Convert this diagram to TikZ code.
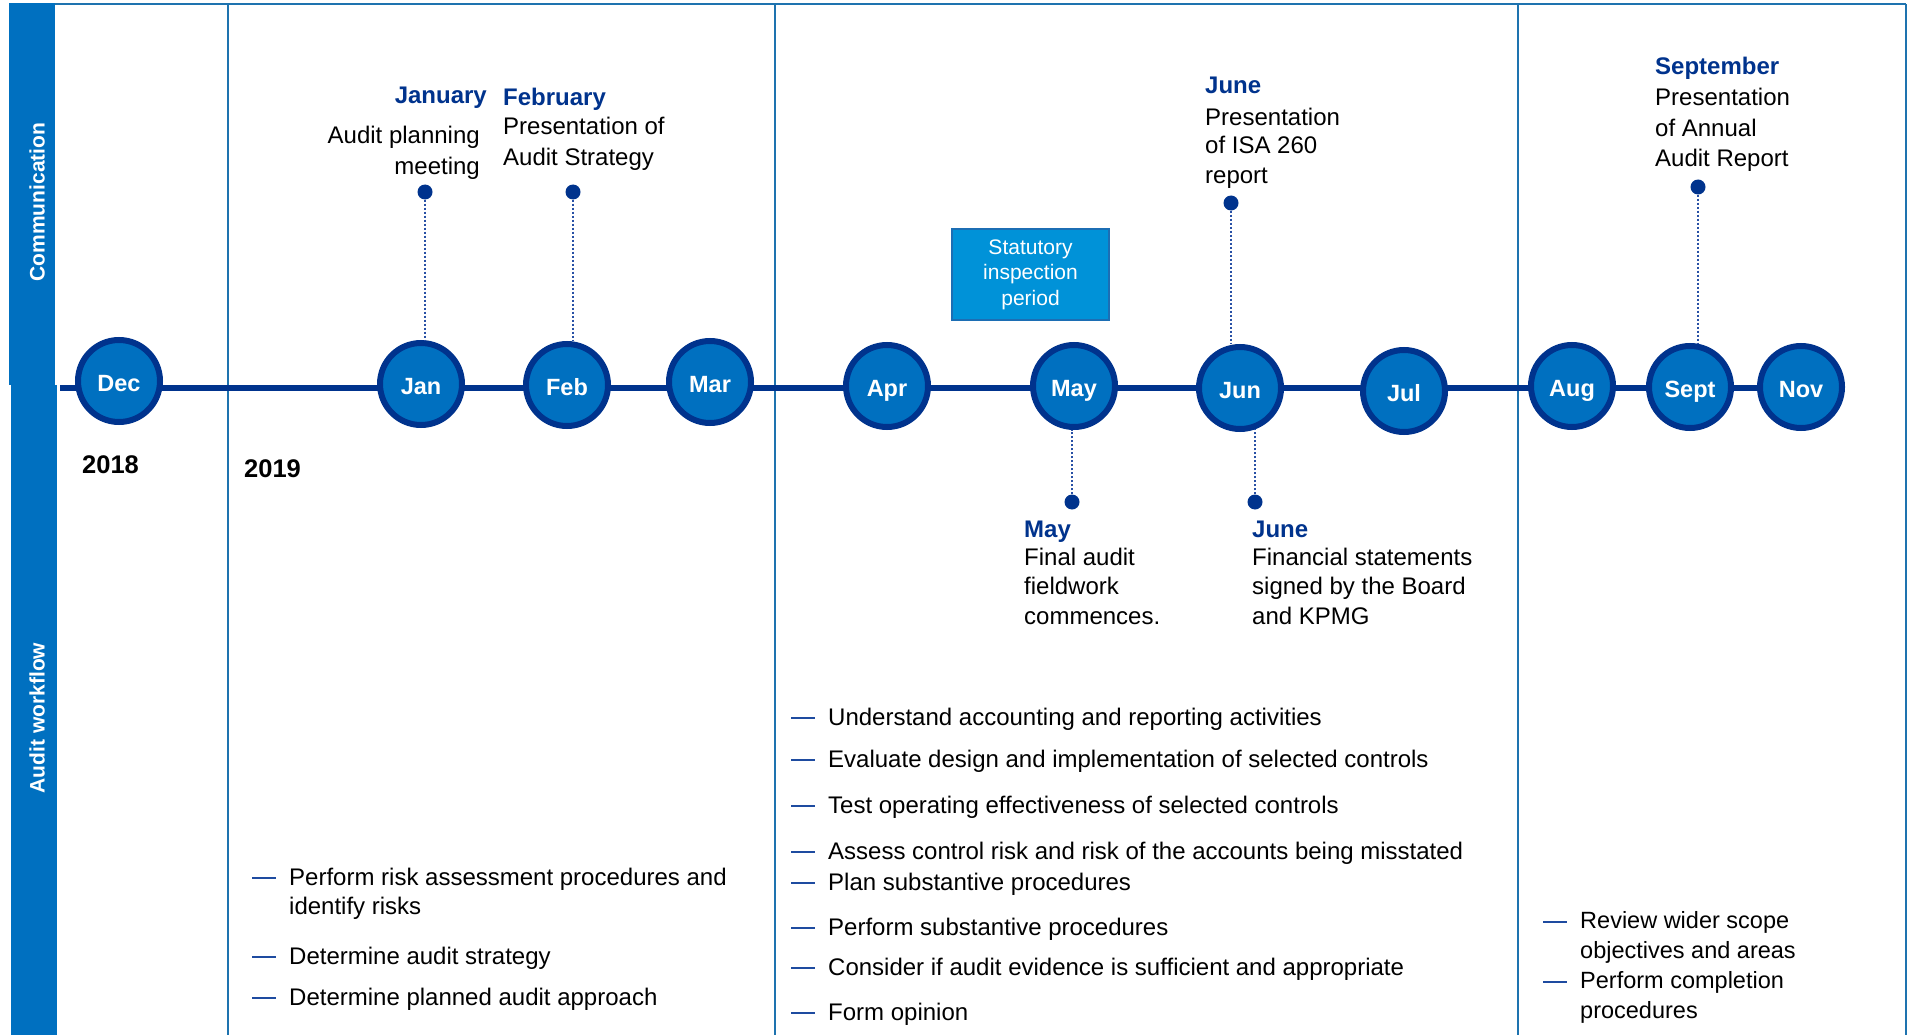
\documentclass[tikz,border=0pt]{standalone}
\usepackage{fontspec}
\setmainfont{Liberation Sans}
\newcommand\myfs[2]{\fontsize{#1}{#2}\selectfont}
\definecolor{barblue}{RGB}{0,112,192}
\definecolor{circfill}{RGB}{0,112,192}
\definecolor{circline}{RGB}{0,51,141}
\definecolor{framecol}{RGB}{30,115,175}
\definecolor{titleblue}{RGB}{0,51,141}
\definecolor{boxfill}{RGB}{0,146,216}
\definecolor{boxline}{RGB}{28,110,180}
\definecolor{dotline}{RGB}{40,80,165}
\definecolor{dashblue}{RGB}{30,75,160}
\begin{document}
\begin{tikzpicture}[x=1pt,y=-1pt,
  month/.style={circle, draw=circline, fill=circfill, line width=6pt, minimum size=82pt, inner sep=0pt, text=white, text height=20pt, text depth=0pt, font=\bfseries\myfs{23.5}{28}},
  evdot/.style={circle, fill=circline, minimum size=15pt, inner sep=0pt},
  dotcon/.style={draw=dotline, line width=1.3pt, dash pattern=on 2pt off 2pt},
  evtitle/.style={text=titleblue, font=\bfseries\myfs{24}{29}, inner sep=0pt},
  framel/.style={draw=framecol, line width=2.5pt},
  bullettext/.style={font=\myfs{24}{29}, inner sep=0pt, align=left, anchor=base west},
  midtext/.style={font=\myfs{24}{28}, inner sep=0pt, anchor=base west},
  righttext/.style={font=\myfs{23.5}{30}, inner sep=0pt, align=left, anchor=base west},
  bulletdash/.style={draw=dashblue, line width=2pt}
]
\useasboundingbox (0,0) rectangle (1910,1035);
\fill[white] (0,0) rectangle (1910,1035);

% left bars
\fill[barblue] (9,3) rectangle (55,385);
\fill[barblue] (11,385) rectangle (57,1035);
\node[rotate=90, text=white, font=\bfseries\myfs{21}{25}] (comlbl) at (37,202) {Communication};
\node[rotate=90, text=white, font=\bfseries\myfs{21}{25}] (audlbl) at (37,718) {Audit workflow};

% frame
\draw[framel] (55,4) -- (1906,4);
\draw[framel] (228,4) -- (228,1035);
\draw[framel] (775,4) -- (775,1035);
\draw[framel] (1518,4) -- (1518,1035);
\draw[framel] (1906,4) -- (1906,1035);

% timeline
\coordinate (tlstart) at (60,388);
\coordinate (tlend) at (1845,388);
\draw[draw=circline, line width=6pt] (tlstart) -- (tlend);

% month circles
\node[month] (dec) at (119,381) {Dec};
\node[month] (jan) at (421,384) {Jan};
\node[month] (feb) at (567,385) {Feb};
\node[month] (mar) at (710,382) {Mar};
\node[month] (apr) at (887,386) {Apr};
\node[month] (may) at (1074,386) {May};
\node[month] (jun) at (1240,388) {Jun};
\node[month] (jul) at (1404,391) {Jul};
\node[month] (aug) at (1572,386) {Aug};
\node[month] (sep) at (1690,387) {Sept};
\node[month] (nov) at (1801,387) {Nov};

% years
\node[anchor=base west, inner sep=0pt, font=\bfseries\myfs{25.5}{30}] (y2018) at (82,473) {2018};
\node[anchor=base west, inner sep=0pt, font=\bfseries\myfs{25.5}{30}] (y2019) at (244,477) {2019};

% event dots
\node[evdot] (jandot) at (425,192) {};
\node[evdot] (febdot) at (573,192) {};
\node[evdot] (juntdot) at (1231,203) {};
\node[evdot] (sepdot) at (1698,187) {};
\node[evdot] (maydot) at (1072,502) {};
\node[evdot] (junbdot) at (1255,502) {};

\draw[dotcon] (jandot) -- (jandot |- jan.north);
\draw[dotcon] (febdot) -- (febdot |- feb.north);
\draw[dotcon] (juntdot) -- (juntdot |- jun.north);
\draw[dotcon] (sepdot) -- (sepdot |- sep.north);
\draw[dotcon] (maydot) -- (maydot |- may.south);
\draw[dotcon] (junbdot) -- ([yshift=3pt]junbdot |- jun.south);

% statutory box
\node[draw=boxline, fill=boxfill, line width=2pt, minimum width=157pt, minimum height=91pt, text=white, align=center, font=\myfs{21}{25.5}] (stat) at (1030.5,274.5) {Statutory\\inspection\\period};

% top annotations (multi-line nodes anchored at last-line baseline)
\node[evtitle, anchor=base east] (jantitle) at (487,104) {January};
\node[anchor=base east, inner sep=0pt, align=right, font=\myfs{24}{31}] (jantext) at (480,175) {Audit planning\\meeting};
\node[evtitle, anchor=base west] (febtitle) at (503,106) {February};
\node[anchor=base west, inner sep=0pt, align=left, font=\myfs{24}{31}] (febtext) at (503,166) {Presentation of\\Audit Strategy};
\node[evtitle, anchor=base west] (juntitle) at (1205,94) {June};
\node[anchor=base west, inner sep=0pt, align=left, font=\myfs{24}{29}] (juntext) at (1205,183) {Presentation\\of ISA 260\\report};
\node[evtitle, anchor=base west] (septitle) at (1655,75) {September};
\node[anchor=base west, inner sep=0pt, align=left, font=\myfs{24}{30.5}] (septext) at (1655,167) {Presentation\\of Annual\\Audit Report};

% lower annotations
\node[evtitle, anchor=base west] (maytitle) at (1024,537) {May};
\node[anchor=base west, inner sep=0pt, align=left, font=\myfs{24}{29.5}] (maytext) at (1024,624) {Final audit\\fieldwork\\commences.};
\node[evtitle, anchor=base west] (junbtitle) at (1252,537) {June};
\node[anchor=base west, inner sep=0pt, align=left, font=\myfs{24}{29.5}] (junbtext) at (1252,624) {Financial statements\\signed by the Board\\and KPMG};

% left bullet list
\node[bullettext] (l1) at (289,914) {Perform risk assessment procedures and\\identify risks};
\node[bullettext] (l2) at (289,964) {Determine audit strategy};
\node[bullettext] (l3) at (289,1005) {Determine planned audit approach};
\draw[bulletdash] ([xshift=-37pt,yshift=36pt]l1.base west) -- ++(24,0);
\foreach \n in {l2,l3} {\draw[bulletdash] ([xshift=-37pt,yshift=7pt]\n.base west) -- ++(24,0);}

% middle bullet list
\node[midtext] (m1) at (828,725) {Understand accounting and reporting activities};
\node[midtext] (m2) at (828,767) {Evaluate design and implementation of selected controls};
\node[midtext] (m3) at (828,813) {Test operating effectiveness of selected controls};
\node[midtext] (m4) at (828,859) {Assess control risk and risk of the accounts being misstated};
\node[midtext] (m5) at (828,890) {Plan substantive procedures};
\node[midtext] (m6) at (828,935) {Perform substantive procedures};
\node[midtext] (m7) at (828,975) {Consider if audit evidence is sufficient and appropriate};
\node[midtext] (m8) at (828,1020) {Form opinion};
\foreach \n in {m1,m2,m3,m4,m5,m6,m7,m8} {\draw[bulletdash] ([xshift=-37pt,yshift=7pt]\n.base west) -- ++(24,0);}

% right bullet list
\node[righttext] (r1) at (1580,958) {Review wider scope\\objectives and areas};
\node[righttext] (r2) at (1580,1018) {Perform completion\\procedures};
\foreach \n in {r1,r2} {\draw[bulletdash] ([xshift=-37pt,yshift=36pt]\n.base west) -- ++(24,0);}
\end{tikzpicture}
\end{document}
